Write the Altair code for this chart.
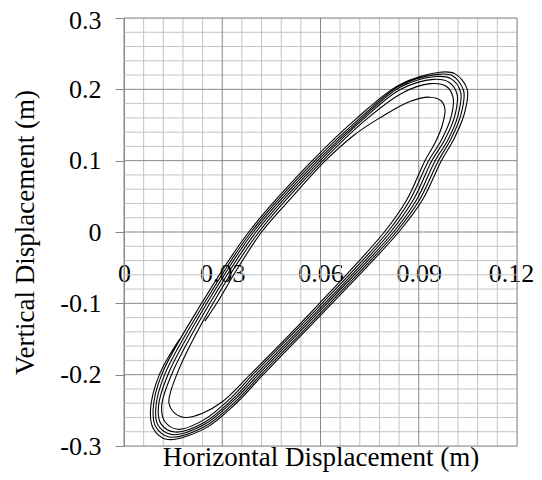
import altair as alt
import pandas as pd

# Axis ticks
X_TICKS = [0, 0.03, 0.06, 0.09, 0.12]
Y_TICKS = [-0.3, -0.2, -0.1, 0, 0.1, 0.2, 0.3]
X_MINOR = [0.006, 0.012, 0.018, 0.024, 0.036, 0.042, 0.048, 0.054,
           0.066, 0.072, 0.078, 0.084, 0.096, 0.102, 0.108, 0.114]
Y_MINOR = [-0.28, -0.26, -0.24, -0.22, -0.18, -0.16, -0.14, -0.12,
           -0.08, -0.06, -0.04, -0.02, 0.02, 0.04, 0.06, 0.08,
           0.12, 0.14, 0.16, 0.18, 0.22, 0.24, 0.26, 0.28]

# Displacement path (x, y) in metres, cycle by cycle
UP_0 = [(0.0247, -0.125), (0.0290, -0.095), (0.0335, -0.060), (0.0420, 0.000),
        (0.0515, 0.050), (0.0615, 0.100), (0.0700, 0.135), (0.0781, 0.160),
        (0.0873, 0.183), (0.0934, 0.189), (0.0968, 0.184), (0.0980, 0.172),
        (0.0972, 0.150), (0.0950, 0.125)]
DOWN_0 = [(0.0919, 0.100), (0.0864, 0.0455), (0.0795, 0.000), (0.0597, -0.100),
          (0.0385, -0.200), (0.0300, -0.238), (0.0240, -0.254), (0.0186, -0.260),
          (0.0155, -0.254), (0.0137, -0.239)]
UP_1 = [(0.0161, -0.200), (0.0272, -0.100), (0.0412, 0.000), (0.0607, 0.100),
        (0.0745, 0.160), (0.0850, 0.195), (0.0935, 0.208), (0.0985, 0.204),
        (0.1005, 0.188), (0.0998, 0.160), (0.0968, 0.128)]
DOWN_1 = [(0.0930, 0.100), (0.0874, 0.0455), (0.0805, 0.000), (0.0605, -0.100),
          (0.0393, -0.200), (0.0330, -0.231), (0.0245, -0.263), (0.0165, -0.2766),
          (0.0125, -0.266), (0.0115, -0.244)]
UP_2 = [(0.0145, -0.200), (0.0262, -0.100), (0.0403, 0.000), (0.0599, 0.100),
        (0.0735, 0.160), (0.0845, 0.200), (0.0945, 0.214), (0.0992, 0.210),
        (0.1017, 0.193), (0.1009, 0.161), (0.0979, 0.129)]
DOWN_2 = [(0.0940, 0.100), (0.0884, 0.0455), (0.0814, 0.000), (0.0613, -0.100),
          (0.0402, -0.200), (0.0335, -0.233), (0.0245, -0.267), (0.0155, -0.2804),
          (0.0113, -0.269), (0.0105, -0.2455)]
UP_3 = [(0.0134, -0.200), (0.0253, -0.100), (0.0395, 0.000), (0.0591, 0.100),
        (0.0728, 0.160), (0.0843, 0.203), (0.0952, 0.218), (0.0998, 0.215),
        (0.1028, 0.196), (0.1019, 0.162), (0.0989, 0.129)]
DOWN_3 = [(0.0950, 0.100), (0.0894, 0.0455), (0.0823, 0.000), (0.0620, -0.100),
          (0.0410, -0.200), (0.0338, -0.235), (0.0245, -0.270), (0.0147, -0.2840),
          (0.0104, -0.271), (0.0097, -0.247)]
UP_4 = [(0.0124, -0.200), (0.0245, -0.100), (0.0388, 0.000), (0.0583, 0.100),
        (0.0721, 0.160), (0.0842, 0.205), (0.0958, 0.221), (0.1003, 0.219),
        (0.1037, 0.198), (0.1028, 0.163), (0.0998, 0.130)]
DOWN_4 = [(0.0960, 0.100), (0.0903, 0.0455), (0.0831, 0.000), (0.0628, -0.100),
          (0.0418, -0.200), (0.0342, -0.237), (0.0245, -0.273), (0.0138, -0.2874),
          (0.0097, -0.273), (0.0089, -0.248)]
UP_5 = [(0.0115, -0.200), (0.0237, -0.100), (0.0381, 0.000), (0.0575, 0.100),
        (0.0712, 0.160), (0.0842, 0.2066), (0.0964, 0.224), (0.1010, 0.222),
        (0.1048, 0.200), (0.1038, 0.164), (0.1007, 0.130)]
DOWN_5 = [(0.0969, 0.100), (0.0912, 0.0455), (0.0839, 0.000), (0.0635, -0.100),
          (0.0425, -0.200), (0.0345, -0.239), (0.0245, -0.276), (0.0130, -0.2906),
          (0.0089, -0.275), (0.0081, -0.2486)]
UP_6 = [(0.0108, -0.200), (0.0170, -0.150)]

BRANCHES = [UP_0, DOWN_0, UP_1, DOWN_1, UP_2, DOWN_2, UP_3, DOWN_3,
            UP_4, DOWN_4, UP_5, DOWN_5, UP_6]

rows = []
for b in BRANCHES:
    for (px, py) in b:
        rows.append({"x": px, "y": py, "i": len(rows)})
df = pd.DataFrame(rows)

FONT = "Liberation Serif"
MAJOR = "#878787"
MINOR = "#c4c4c4"

xs = alt.Scale(domain=[0, 0.12], nice=False, zero=False)
ys = alt.Scale(domain=[-0.3, 0.3], nice=False, zero=False)

x_axis = alt.Axis(
    values=X_TICKS, grid=False, domain=False, ticks=True, tickSize=0,
    labelExpr="datum.value == 0 ? '0' : format(datum.value, '.2f')",
    labelFont=FONT, labelFontSize=26, labelColor="black", labelPadding=28,
    labelOverlap=False, labelFlush=False, offset=-213.5,
    labelOffset={"condition": {"test": "datum.value > 0.11", "value": -6}, "value": 0},
    title="Horizontal Displacement (m)", titleFont=FONT, titleFontSize=27,
    titleFontWeight="normal", titleColor="black", titleBaseline="alphabetic",
    titleY=232.5,
)
y_axis = alt.Axis(
    values=Y_TICKS, grid=False, domain=True, domainColor=MAJOR, ticks=True,
    tickSize=9, tickColor=MAJOR,
    labelExpr="datum.value == 0 ? '0' : (datum.value < 0 ? '-' : '') + format(abs(datum.value), '.1f')",
    labelFont=FONT, labelFontSize=26, labelColor="black", labelPadding=14,
    labelOverlap=False, labelFlush=False,
    labelOffset={"condition": {"test": "datum.value > 0.29", "value": 2}, "value": 0},
    title="Vertical Displacement (m)", titleFont=FONT, titleFontSize=27,
    titleFontWeight="normal", titleColor="black", titleBaseline="alphabetic",
    titleAngle=270, titleAlign="center", titleX=-90.7, titleY=214,
)

minor_v = alt.Chart(pd.DataFrame({"x": X_MINOR})).mark_rule(
    color=MINOR, strokeWidth=1).encode(x=alt.X("x:Q", scale=xs, axis=x_axis))
minor_h = alt.Chart(pd.DataFrame({"y": Y_MINOR})).mark_rule(
    color=MINOR, strokeWidth=1).encode(y=alt.Y("y:Q", scale=ys, axis=y_axis))
major_v = alt.Chart(pd.DataFrame({"x": X_TICKS})).mark_rule(
    color=MAJOR, strokeWidth=1).encode(x=alt.X("x:Q", scale=xs, axis=x_axis))
major_h = alt.Chart(pd.DataFrame({"y": Y_TICKS})).mark_rule(
    color=MAJOR, strokeWidth=1).encode(y=alt.Y("y:Q", scale=ys, axis=y_axis))

line = alt.Chart(df).mark_line(
    color="black", strokeWidth=1.1, interpolate="catmull-rom").encode(
    x=alt.X("x:Q", scale=xs, axis=x_axis),
    y=alt.Y("y:Q", scale=ys, axis=y_axis),
    order="i:Q",
)

chart = alt.layer(minor_v, minor_h, major_v, major_h, line).properties(
    width=393, height=428,
    autosize=alt.AutoSizeParams(type="none"),
    padding={"left": 116, "top": 10, "right": 17, "bottom": 26},
).configure_view(strokeWidth=0).configure(background="white")

chart.save("out.html", embed_options={"renderer": "svg", "actions": False})
